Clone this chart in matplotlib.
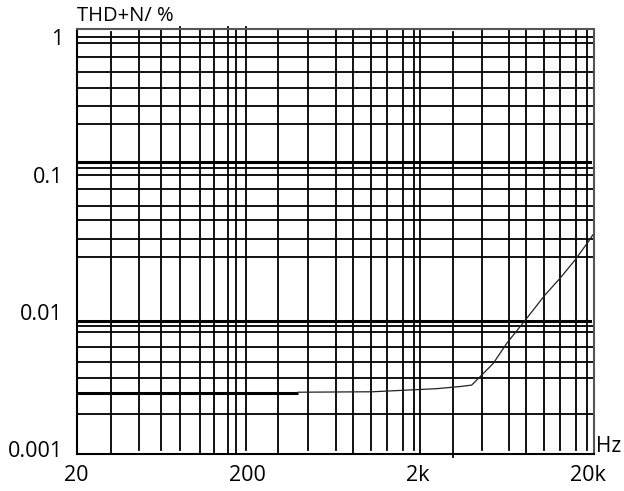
import matplotlib
matplotlib.use("Agg")
import matplotlib.pyplot as plt

plt.rcParams['font.family'] = ['Open Sans', 'DejaVu Sans']

# THD+N response (frequency in Hz, THD+N in %)
freq_low = [20, 399]
thd_low = [0.00255, 0.00255]
freq_curve = [399, 1094, 1921, 2600, 3562, 4172, 4464, 4669, 5588, 6699,
              8779, 11240, 13770, 16870, 20190, 21430]
thd_curve = [0.00260, 0.00262, 0.00271, 0.00276, 0.00286, 0.00293, 0.00319,
             0.00337, 0.00422, 0.00590, 0.00898, 0.01328, 0.01757, 0.02388,
             0.03246, 0.03632]

# chart-paper grid
vgrid = [31.8, 46.4, 62.5, 80.9, 106, 128, 155.3, 172.3, 197.3, 303, 458, 664,
         838, 1069, 1322, 1655, 1912, 2074, 3228, 4777, 6910, 8730, 11090,
         13825, 17100, 19760]
vgrid_short = [46.4, 62.5, 80.9, 197.3, 458, 664, 1069, 1322, 1655, 1912,
               4777, 6910, 11090, 13825, 17100, 19760]
vgrid_tall = [80.9, 155.3, 197.3]
vgrid_low_top = [31.8, 3228]
hgrid = [1.0, 0.904, 0.722, 0.556, 0.425, 0.316, 0.235, 0.111, 0.0993, 0.0781,
         0.0594, 0.0467, 0.0340, 0.0250, 0.00793, 0.00717, 0.00558, 0.00434,
         0.00332, 0.00180]
hgrid_bold = [0.123, 0.00859]

xticks = [20, 200, 2000, 20000]
xticklabels = ['20', '200', '2k', '20k']
yticks = [0.001, 0.01, 0.1, 1]
yticklabels = ['0.001', '0.01', '0.1', '1']

fig = plt.figure(figsize=(6.24, 4.91), dpi=100)
ax = fig.add_axes([76.7 / 624, 36.7 / 491, (594 - 76.7) / 624, 425.3 / 491])
ax.set_xscale('log')
ax.set_yscale('log')
ax.set_xlim(20, 21800)
ax.set_ylim(0.000918, 1.149)

grid_lw = 1.3
for f in vgrid:
    ymin = 0.0
    ymax = 1.0
    if f in vgrid_short:
        ymin = 0.0101
    if f == 3228:
        ymin = -0.0063
    if f in vgrid_tall:
        ymax = 1.0054
    if f in vgrid_low_top:
        ymax = 0.993
    ax.axvline(f, ymin=ymin, ymax=ymax, color='black', lw=grid_lw,
               clip_on=False, zorder=2)
for v in hgrid:
    ax.axhline(v, color='black', lw=grid_lw, zorder=2)
for v in hgrid_bold:
    ax.axhline(v, xmax=0.992, color='black', lw=2.2, zorder=2)

ax.plot(freq_low, thd_low, color='black', lw=2.2, solid_capstyle='butt', zorder=3)
ax.plot(freq_curve, thd_curve, color='#222222', lw=0.9, zorder=3)

for side in ['left', 'bottom']:
    ax.spines[side].set_color('black')
    ax.spines[side].set_linewidth(1.5)
for side in ['right', 'top']:
    ax.spines[side].set_color('#555555')
    ax.spines[side].set_linewidth(1.5)

ax.set_xticks(xticks)
ax.set_xticklabels(xticklabels)
ax.set_yticks(yticks)
ax.set_yticklabels(yticklabels)
ax.minorticks_off()
ax.tick_params(length=0, labelsize=15.5, colors='black')
ax.tick_params(axis='x', pad=8)
ax.tick_params(axis='y', pad=10)

ax.text(0.0, 1.008, 'THD+N/ %', transform=ax.transAxes, fontsize=14.5,
        ha='left', va='bottom')
ax.text(1.003, 0.018, 'Hz', transform=ax.transAxes, fontsize=15,
        ha='left', va='center')

fig.savefig('out.png', dpi=100)
